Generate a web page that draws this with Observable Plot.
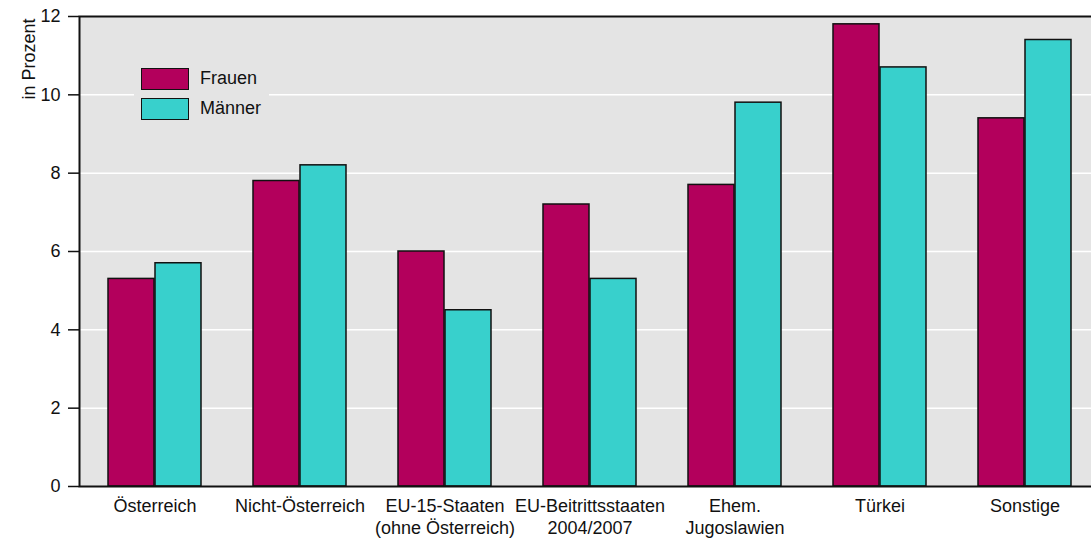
<!DOCTYPE html>
<html>
<head>
<meta charset="utf-8">
<script src="https://cdn.jsdelivr.net/npm/d3@7"></script>
<script src="https://cdn.jsdelivr.net/npm/@observablehq/plot@0.6"></script>
<style>
  body { margin: 0; background: #fff; overflow: hidden; font-family: "Liberation Sans", Arial, sans-serif; }
  #wrap { position: relative; width: 1091px; height: 541px; }
  #legend { position: absolute; left: 134px; top: 60px; width: 135px; height: 72px; background: #e4e4e4; }
  .row { position: absolute; left: 7px; height: 23px; display: flex; align-items: center; }
  .sw { width: 46px; height: 20px; border: 1.5px solid #111; box-sizing: content-box; }
  .lab { margin-left: 11px; font-size: 18px; color: #111; }
</style>
</head>
<body>
<div id="wrap">
  <div id="chart"></div>
  <div id="legend"></div>
</div>
<script>
const categories = [
  "Österreich",
  "Nicht-Österreich",
  "EU-15-Staaten\n(ohne Österreich)",
  "EU-Beitrittsstaaten\n2004/2007",
  "Ehem.\nJugoslawien",
  "Türkei",
  "Sonstige"
];
const seriesNames = ["Frauen", "Männer"];
const frauen  = [5.3, 7.8, 6.0, 7.2, 7.7, 11.8, 9.4];
const maenner = [5.7, 8.2, 4.5, 5.3, 9.8, 10.7, 11.4];
const yTicks = [0, 2, 4, 6, 8, 10, 12];
const gridTicks = [2, 4, 6, 8, 10];
const colors = ["#b3005c", "#38d0cc"];

const rowsF = categories.map((c, i) => ({cat: c, value: frauen[i]}));
const rowsM = categories.map((c, i) => ({cat: c, value: maenner[i]}));

const chart = Plot.plot({
  width: 1091,
  height: 541,
  marginTop: 16,
  marginBottom: 55,
  marginLeft: 79,
  marginRight: -9,
  style: { fontFamily: "'Liberation Sans', Arial, sans-serif", fontSize: "18px", color: "#111", background: "transparent" },
  x: { domain: categories, padding: 0, axis: null },
  y: { domain: [0, 12], axis: null },
  marks: [
    Plot.frame({ fill: "#e4e4e4" }),
    Plot.gridY(gridTicks, { stroke: "white", strokeOpacity: 1, strokeWidth: 1.5 }),
    Plot.barY(rowsF, { x: "cat", y: "value", fill: colors[0], stroke: "#111", strokeWidth: 1.5, insetLeft: 26, insetRight: 73 }),
    Plot.barY(rowsM, { x: "cat", y: "value", fill: colors[1], stroke: "#111", strokeWidth: 1.5, insetLeft: 73, insetRight: 26 }),
    Plot.frame({ stroke: "#111", strokeWidth: 2 }),
    Plot.axisY(yTicks, { tickSize: 11, tickPadding: 8, stroke: "#111", strokeWidth: 1.5, fontSize: 18, label: null }),
    Plot.axisX({ tickSize: 0, tickPadding: 10, lineHeight: 1.22, fontSize: 18, label: null }),
    Plot.text(["in Prozent"], { frameAnchor: "top-left", rotate: -90, textAnchor: "end", dx: -57, dy: 2, fontSize: 18 })
  ]
});
document.getElementById("chart").appendChild(chart);

const legend = document.getElementById("legend");
seriesNames.forEach((name, i) => {
  const row = document.createElement("div");
  row.className = "row";
  row.style.top = (7 + i * 30) + "px";
  const sw = document.createElement("div");
  sw.className = "sw";
  sw.style.background = colors[i];
  const lab = document.createElement("span");
  lab.className = "lab";
  lab.textContent = name;
  row.appendChild(sw);
  row.appendChild(lab);
  legend.appendChild(row);
});
</script>
</body>
</html>
